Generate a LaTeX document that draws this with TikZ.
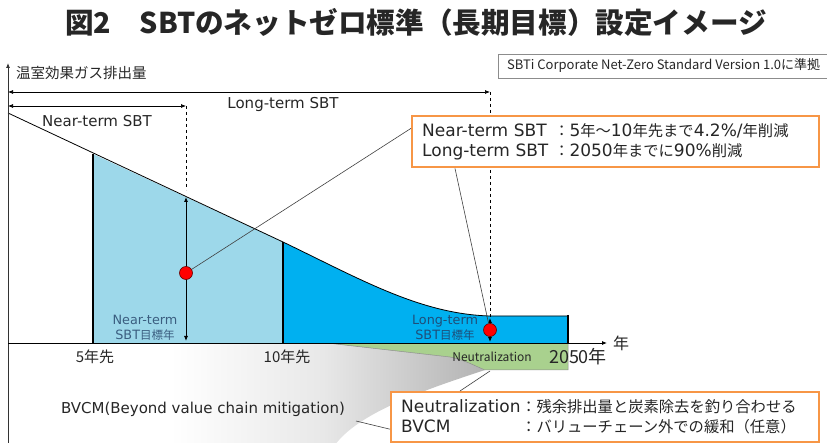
\documentclass[tikz,border=0pt]{standalone}
\usepackage{fontspec}
\setmainfont{DejaVu Sans}
\newfontfamily\jp{Noto Sans CJK JP}
\newfontfamily\jpb[Scale=0.9]{Noto Sans CJK JP}
\usetikzlibrary{arrows.meta,calc}
\definecolor{lblue}{HTML}{9DD8EA}
\definecolor{dblue}{HTML}{00B0F0}
\definecolor{lgreen}{HTML}{A9D18E}
\definecolor{orng}{HTML}{F79646}
\definecolor{nlab}{HTML}{3B5E80}
\definecolor{llab}{HTML}{1F4E79}
\definecolor{txt}{HTML}{262626}
\pgfdeclarehorizontalshading{bvcm}{100bp}{color(0bp)=(white); color(25bp)=(white); color(42bp)=(white); color(58bp)=(black!9); color(75bp)=(black!30); color(100bp)=(black!30)}
\newcommand{\fs}[1]{\fontsize{#1}{#1}\selectfont}
\begin{document}
\begin{tikzpicture}[x=1pt,y=-1pt,
  tip/.style={-{Latex[length=5pt,width=4pt]}},
  dtip/.style={{Latex[length=5pt,width=4pt]}-{Latex[length=5pt,width=4pt]}},
  thick2/.style={line width=2pt},
  conn/.style={draw=black!75, line width=0.6pt},
  obox/.style={draw=orng, line width=2.4pt, fill=white, anchor=north west, inner xsep=10pt, inner ysep=0pt, align=left, text=txt},
  dot/.style={circle, fill=red, draw=red!40!black, line width=0.6pt, minimum size=13pt, inner sep=0pt},
  lab/.style={inner sep=0pt, text=txt}]
\useasboundingbox (0,0) rectangle (827,443);
\clip (0,0) rectangle (827,443);
% title
\node[lab, font=\jp\bfseries\fs{28.6}] (title) at (416,22) {図2　SBTのネットゼロ標準（長期目標）設定イメージ};
% standard box
\node[draw=black!45, line width=0.6pt, anchor=north west, minimum width=345pt, minimum height=24pt, inner sep=0pt] (std) at (498,54) {};
\node[lab, anchor=west, font=\jp\fs{13}] (stdtxt) at (507,66) {SBTi Corporate Net-Zero Standard Version 1.0に準拠};
% BVCM gray region
\path[shading=bvcm] (8,343) -- (327,343) -- (450,357) .. controls (465,360) and (475,366) .. (485,370) .. controls (440,385) and (360,410) .. (335,445) -- (8,445) -- cycle;
% green neutralization
\path[fill=lgreen, draw=black!45, line width=0.5pt] (327,343) -- (568,343) -- (568,370) -- (485,370) .. controls (475,366) and (465,360) .. (450,357) -- cycle;
% blue regions
\fill[lblue] (93,154) -- (283,242) -- (283,343) -- (93,343) -- cycle;
\fill[dblue] (283,242) .. controls (360,279) and (420,314) .. (490,316) -- (568,316) -- (568,343) -- (283,343) -- cycle;
% emission curve
\draw[line width=0.8pt] (8,113) -- (283,242) .. controls (360,279) and (420,314) .. (490,316) -- (568,316);
\draw[thick2] (93,154) -- (93,344);
\draw[thick2] (283,242) -- (283,344);
\draw[thick2] (568,315) -- (568,344);
% axes
\coordinate (y0) at (8,445);
\coordinate (y1) at (8,63);
\coordinate (x0) at (8,343);
\coordinate (x1) at (607,343);
\draw[line width=0.8pt, draw=black!80, tip] (y0) -- (y1);
\draw[line width=0.8pt, tip] (x0) -- (x1);
\node[lab, anchor=west, font=\jp\fs{14.5}] (ylab) at (16,73) {温室効果ガス排出量};
\node[lab, font=\jp\fs{16}] (xlab) at (621,343) {年};
% period arrows
\coordinate (la) at (8,92);
\coordinate (lb) at (490,92);
\coordinate (na) at (8,106);
\coordinate (nb) at (186,106);
\draw[line width=0.7pt, dtip] (la) -- (lb);
\draw[line width=0.7pt, dtip] (na) -- (nb);
\node[lab, font=\fs{15}] (lt) at (283,104) {Long-term SBT};
\node[lab, font=\fs{15}] (nt) at (97,121) {Near-term SBT};
\coordinate (nd1) at (186,197);
\coordinate (nd2) at (186,341);
\coordinate (ld1) at (490,318);
\coordinate (ld2) at (490,342);
\draw[line width=0.8pt, dashed] (nb) -- (186,190);
\draw[line width=0.8pt, dashed] (lb) -- (ld1);
\draw[line width=0.8pt, dtip] (nd1) -- (nd2);
\draw[line width=0.8pt, dtip] (ld1) -- (ld2);
% target dots
\node[dot] (dotN) at (186,273) {};
\node[dot] (dotL) at (490,330) {};
% target-year labels
\node[lab, align=center, text=nlab, font=\fontsize{12.8}{14.5}\selectfont] (ntl) at (145,328) {Near-term\\SBT{\jpb 目標年}};
\node[lab, align=center, text=llab, font=\fontsize{12.8}{14.5}\selectfont] (ltl) at (445,328) {Long-term\\SBT{\jpb 目標年}};
% axis labels
\node[lab, font=\jp\fs{15}] (y5) at (95,357) {5年先};
\node[lab, font=\jp\fs{15}] (y10) at (287,357) {10年先};
\node[lab, font=\jp\fs{18}] (y2050) at (578,357) {2050年};
\node[lab, font=\jp\fs{12}] (neu) at (492,357) {Neutralization};
\node[lab, font=\fs{15}] (bv) at (203,409) {BVCM(Beyond value chain mitigation)};
% orange boxes
\node[obox, minimum width=407pt, minimum height=51pt, text width=387pt, font=\fs{17}] (box1) at (411,115)
  {\makebox[132pt][l]{Near-term SBT}{\jpb ：}5{\jpb 年～}10{\jpb 年先まで}4.2\%/{\jpb 年削減}\\[3pt]
   \makebox[132pt][l]{Long-term SBT}{\jpb ：}2050{\jpb 年までに}90\%{\jpb 削減}};
\node[obox, minimum width=428pt, minimum height=50pt, text width=408pt, font=\fs{17}] (box2) at (390,391)
  {\makebox[120pt][l]{Neutralization}{\jpb ：残余排出量と炭素除去を釣り合わせる}\\[3pt]
   \makebox[120pt][l]{BVCM}{\jpb ：バリューチェーン外での緩和（任意）}};
% connectors
\coordinate (gpt) at (490,371);
\coordinate (bpt) at (356,421);
\draw[conn] (dotN) -- ($(box1.north west)!0.25!(box1.south west)$);
\draw[conn] ([xshift=44pt]box1.south west) -- (dotL);
\draw[conn] (gpt) -- ([xshift=70pt]box2.north west);
\draw[conn] (bpt) -- ([yshift=-12pt]box2.west);
\end{tikzpicture}
\end{document}
